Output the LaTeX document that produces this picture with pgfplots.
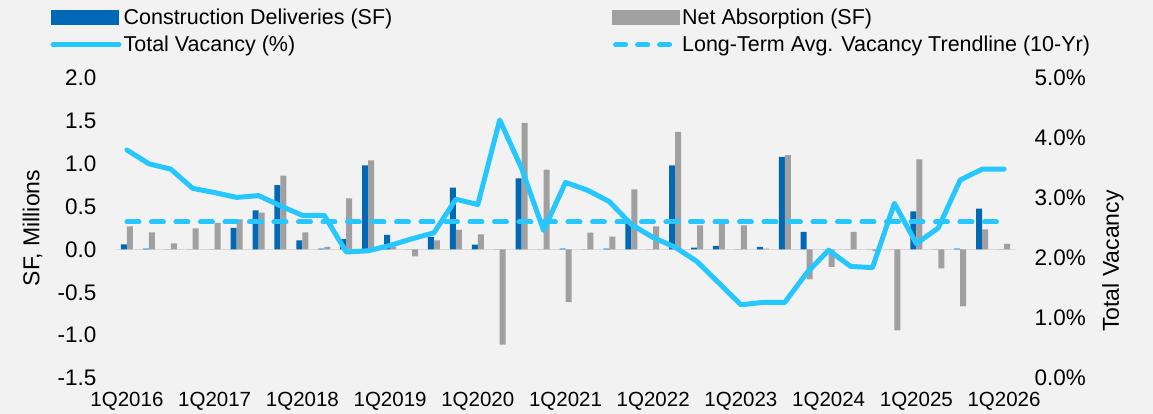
\documentclass[border=0pt]{standalone}
\usepackage{pgfplots}
\pgfplotsset{compat=1.18}
\usepackage{pgfplotstable}
\usepackage{fontspec}
\setmainfont{Liberation Sans}
\definecolor{bgc}{HTML}{F2F2F2}
\definecolor{cdel}{HTML}{0068B5}
\definecolor{nabs}{HTML}{A0A0A0}
\definecolor{vac}{HTML}{26C6FF}
\definecolor{zl}{HTML}{D9D9D9}

\pgfplotstableread{
i del abs vac
0 0.06 0.27 3.80
1 0.01 0.20 3.57
2 0.00 0.07 3.48
3 0.00 0.245 3.16
4 0.00 0.31 3.09
5 0.25 0.35 3.01
6 0.455 0.43 3.04
7 0.75 0.86 2.87
8 0.105 0.20 2.71
9 0.01 0.03 2.71
10 0.12 0.595 2.10
11 0.98 1.04 2.12
12 0.17 0.035 2.21
13 0.00 -0.08 2.32
14 0.145 0.105 2.42
15 0.72 0.23 2.98
16 0.055 0.175 2.89
17 0.00 -1.11 4.30
18 0.83 1.475 3.49
19 0.00 0.93 2.46
20 0.01 -0.615 3.26
21 0.00 0.195 3.13
22 0.01 0.15 2.94
23 0.30 0.70 2.56
24 0.00 0.27 2.34
25 0.98 1.37 2.18
26 0.02 0.28 1.94
27 0.04 0.33 1.58
28 0.00 0.28 1.22
29 0.03 0.01 1.26
30 1.08 1.10 1.26
31 0.205 -0.35 1.75
32 0.00 -0.205 2.13
33 0.00 0.205 1.86
34 0.00 -0.02 1.84
35 0.00 -0.945 2.91
36 0.445 1.05 2.24
37 0.00 -0.22 2.50
38 0.01 -0.665 3.30
39 0.475 0.235 3.48
40 0.00 0.065 3.48
}\data

\begin{document}
\begin{tikzpicture}[x=1pt,y=1pt]
\fill[bgc] (0,0) rectangle (1153,414);
\useasboundingbox (0,0) rectangle (1153,414);
\begin{axis}[
  at={(116pt,36pt)}, anchor=south west,
  scale only axis, width=899pt, height=300pt,
  xmin=-0.5, xmax=40.5, ymin=-1.5, ymax=2.0,
  ybar=0pt, bar width=6pt,
  axis line style={draw=none},
  tick style={draw=none},
  xtick={0,4,...,40},
  xticklabels={1Q2016,1Q2017,1Q2018,1Q2019,1Q2020,1Q2021,1Q2022,1Q2023,1Q2024,1Q2025,1Q2026},
  x tick label style={font=\fontsize{20.5}{24}\selectfont, yshift=-6pt},
  ytick={-1.5,-1,...,2},
  y tick label style={font=\fontsize{22.5}{26}\selectfont, xshift=-16pt},
  yticklabel={\pgfmathprintnumber[fixed,fixed zerofill,precision=1,assume math mode=true]{\tick}},
  ylabel={SF, Millions},
  ylabel style={font=\fontsize{23}{27}\selectfont, at={(axis description cs:-0.093,0.5)}, anchor=center},
  extra y ticks={0},
  extra y tick labels={},
  extra y tick style={grid=major, major grid style={draw=zl, line width=1.5pt}},
  clip=false,
]
\addplot[draw=none, fill=cdel] table[x=i, y=del] {\data};
\addplot[draw=none, fill=nabs] table[x=i, y=abs] {\data};
\end{axis}
\begin{axis}[
  at={(116pt,36pt)}, anchor=south west,
  scale only axis, width=899pt, height=300pt,
  xmin=-0.5, xmax=40.5, ymin=0, ymax=5,
  hide x axis,
  axis y line*=right,
  y axis line style={draw=none},
  tick style={draw=none},
  ytick={0,1,...,5},
  yticklabel={\pgfmathprintnumber[fixed,fixed zerofill,precision=1,assume math mode=true]{\tick}\%},
  y tick label style={font=\fontsize{22.5}{26}\selectfont, xshift=16pt},
  ylabel={Total Vacancy},
  ylabel style={font=\fontsize{23}{27}\selectfont, at={(axis description cs:1.109,0.39)}, anchor=center, rotate=0},
  legend columns=2,
  legend style={at={(axis description cs:-0.073,1.237)}, anchor=north west, draw=none, fill=none, inner sep=0pt,
    font=\fontsize{21.5}{25}\selectfont, row sep=6pt,
    /tikz/every even column/.append style={column sep=218pt}},
  legend cell align=left,
  clip=false,
]
\addlegendimage{legend image code/.code={\fill[cdel] (0pt,-7pt) rectangle (67pt,7pt);}}
\addlegendentry{Construction Deliveries (SF)}
\addlegendimage{legend image code/.code={\fill[nabs] (0pt,-7pt) rectangle (67pt,7pt);}}
\addlegendentry{Net Absorption (SF)}
\addplot[vac, line width=5pt, line join=round, line cap=round,
  legend image code/.code={\draw[vac, line width=5pt, line cap=round] (2pt,0pt) -- (68pt,0pt);}]
  table[x=i, y=vac] {\data};
\addlegendentry{Total Vacancy (\%)}
\addplot[vac, line width=5pt, line cap=round, dash pattern=on 12pt off 12.5pt,
  legend image code/.code={\draw[vac, line width=5pt, line cap=round, dash pattern=on 10pt off 12pt] (3pt,0pt) -- (65pt,0pt);}]
  coordinates {(0,2.6) (40,2.6)};
\addlegendentry{Long-Term Avg. Vacancy Trendline (10-Yr)}
\end{axis}
\end{tikzpicture}
\end{document}
